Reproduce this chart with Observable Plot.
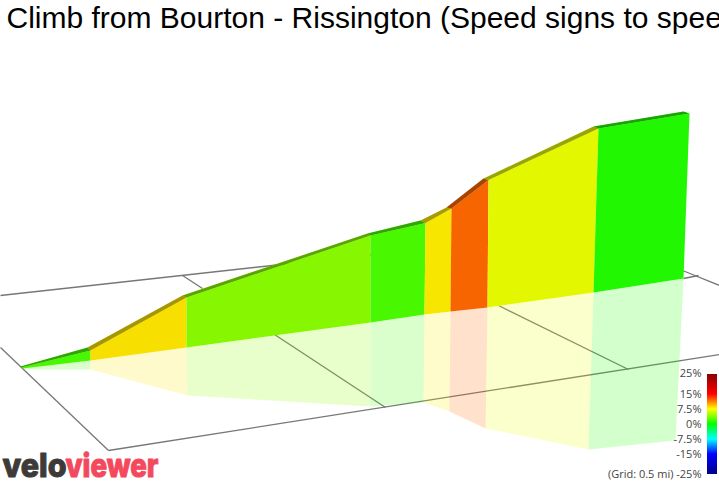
<!DOCTYPE html>
<html>
<head>
<meta charset="utf-8">
<script src="https://cdn.jsdelivr.net/npm/d3@7"></script>
<script src="https://cdn.jsdelivr.net/npm/@observablehq/plot@0.6"></script>
<style>
html,body{margin:0;padding:0;background:#fff;overflow:hidden}
svg{display:block}
</style>
</head>
<body>
<div id="chart"></div>
<script>
// Gradient (%) of each climb section
const sectionGrade = [2.2, 8.2, 4.1, 2.2, 8, 11.9, 6.9, 1];
// Section boundaries as they read on the picture's projected floor
const roadX = [20, 87, 182, 367, 420, 446, 483, 593, 683];
const roadY = [366, 347, 295, 233, 220, 207, 178, 126, 111];
const wallTopX = [21, 90, 186, 370, 425, 451, 488, 598, 689];
const wallTopY = [367, 350, 297, 235, 222.5, 208, 179.5, 128, 113];
const wallBaseX = [22, 90, 186, 370, 424, 450, 487, 593, 683];
const wallBaseY = [368, 360, 347, 322, 314, 311, 307, 292, 278];
const shadowX = [24, 90, 187, 370, 423, 449, 485, 588, 675];
const shadowY = [369, 369, 395, 406, 402, 411, 428, 449, 440];
// Floor grid segments
const gridX1 = [0, 108, 0, 182, 274, 498, 683, 682];
const gridY1 = [347, 450, 295, 275, 334, 305, 278, 270];
const gridX2 = [108, 719, 380, 202, 385, 628, 698, 719];
const gridY2 = [450, 354, 253, 288, 407, 369, 275, 285];
// Legend
const legendStops = [-25, -15, -7.5, 0, 7.5, 15, 25];
const legendColors = ["#00008b", "#0000ff", "#00ffff", "#00ff00", "#ffff00", "#ff0000", "#8b0000"];
const legendLabels = ["25%", "15%", "7.5%", "0%", "-7.5%", "-15%", "(Grid: 0.5 mi) -25%"];
const legendLabelValues = [25, 15, 7.5, 0, -7.5, -15, -25];
const titleText = "Climb from Bourton - Rissington (Speed signs to spee";

function quads(x1, y1, x2, y2) {
  return sectionGrade.flatMap((grade, i) => [
    {section: i, grade, x: x1[i], y: y1[i]},
    {section: i, grade, x: x1[i + 1], y: y1[i + 1]},
    {section: i, grade, x: x2[i + 1], y: y2[i + 1]},
    {section: i, grade, x: x2[i], y: y2[i]}
  ]);
}
const poly = {x: "x", y: "y", z: "section", fill: "grade", stroke: "none", curve: "linear"};
const shade = {x: "x", y: "y", z: "section", fill: "#000", stroke: "none"};
const grid = gridX1.map((x, i) => ({x1: x, y1: gridY1[i], x2: gridX2[i], y2: gridY2[i]}));
const legendY = (p) => 424 - 2 * p;
const ramp = d3.range(-25, 25, 0.5).map((p) => ({p: p + 0.25, y1: legendY(p), y2: legendY(p + 0.5)}));
const labels = legendLabels.map((text, i) => ({text, y: legendY(legendLabelValues[i]) - (i === 0 ? 1 : 0)}));
const logoFont = {y: () => 476, textAnchor: "start", lineAnchor: "bottom", fontFamily: "Inter", fontWeight: 800, fontSize: 32, strokeWidth: 1};

const plot = Plot.plot({
  width: 719, height: 481, margin: 0,
  style: {background: "#fff", overflow: "hidden"},
  x: {axis: null, domain: [0, 719]},
  y: {axis: null, domain: [481, 0]},
  color: {type: "linear", domain: legendStops, range: legendColors, interpolate: "rgb"},
  marks: [
    Plot.link(grid, {x1: "x1", y1: "y1", x2: "x2", y2: "y2", stroke: "#777", strokeWidth: 1.3}),
    Plot.line(quads(wallBaseX, wallBaseY, shadowX, shadowY), {...poly, fillOpacity: 0.2}),
    Plot.line(quads(wallTopX, wallTopY, wallBaseX, wallBaseY), poly),
    Plot.line(quads(wallTopX, wallTopY, wallBaseX, wallBaseY), {...shade, fillOpacity: 0.03}),
    Plot.line(quads(roadX, roadY, wallTopX, wallTopY), poly),
    Plot.line(quads(roadX, roadY, wallTopX, wallTopY), {...shade, fillOpacity: 0.35}),
    Plot.rect(ramp, {x1: () => 707, x2: () => 717, y1: "y1", y2: "y2", fill: "p"}),
    Plot.text(labels, {x: () => 701, y: "y", text: "text", textAnchor: "end", fontFamily: "Open Sans", fontSize: 11, fill: "#444"}),
    Plot.text([titleText], {x: () => 6, y: () => 27, textAnchor: "start", lineAnchor: "bottom", fontFamily: "Liberation Sans", fontSize: 30, fill: "#000"}),
    Plot.text(["velo"], {...logoFont, x: () => 2, fill: "#3d3a38", stroke: "#3d3a38"}),
    Plot.text(["viewer"], {...logoFont, x: () => 65, fill: "#f4485c", stroke: "#f4485c"})
  ]
});
document.getElementById("chart").append(plot);
// Fit the logo words to the widths they have in the reference
const logoWidths = {velo: 64, viewer: 93};
plot.querySelectorAll("text").forEach((t) => {
  const w = logoWidths[t.textContent];
  if (w) { t.setAttribute("textLength", w); t.setAttribute("lengthAdjust", "spacingAndGlyphs"); }
});
</script>
</body>
</html>
